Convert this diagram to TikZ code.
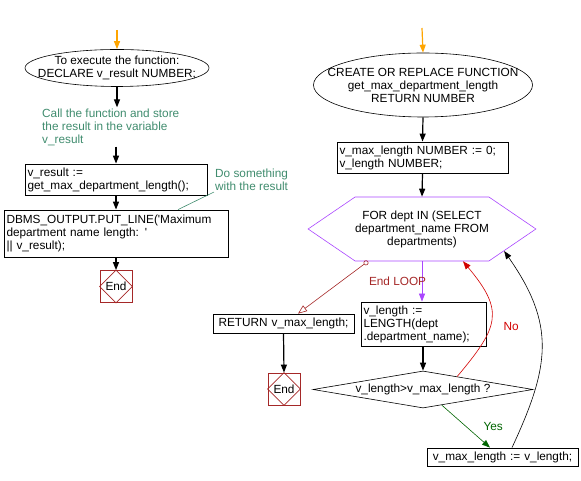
\documentclass[tikz,border=0pt]{standalone}
\usepackage{fontspec}
\setmainfont{Liberation Sans}
\usetikzlibrary{shapes.geometric,shapes.symbols,arrows.meta,calc}

\definecolor{notegreen}{RGB}{64,140,110}
\definecolor{endred}{RGB}{165,40,40}
\definecolor{looppurple}{RGB}{170,70,255}
\definecolor{norred}{RGB}{210,0,0}
\definecolor{yesgreen}{RGB}{0,100,0}
\definecolor{startorange}{RGB}{255,165,0}

\tikzset{
  startell/.style={ellipse, draw, line width=0.6pt, inner sep=0pt},
  procbox/.style={rectangle, draw, line width=0.8pt, align=left, inner sep=2.5pt},
  note/.style={text=notegreen, align=left, inner sep=1pt},
  endbox/.style={rectangle, draw=endred, line width=0.8pt, minimum size=32pt, inner sep=0pt},
  flow/.style={line width=1.2pt, -{Triangle[length=8pt,width=6pt]}},
}

\begin{document}
\begin{tikzpicture}[x=1pt,y=1pt,every node/.style={font=\fontsize{11.8}{13}\selectfont}]
  \useasboundingbox (0,0) rectangle (581,481);

  % Left column: calling the function
  \coordinate (go1) at (117,451);
  \node[startell, minimum width=184pt, minimum height=37pt,
        label={[align=center]center:To execute the function:\\DECLARE v\_result NUMBER;}] (ell1) at (117,413) {};
  \node[note, anchor=west] (cmt1) at (41,354) {Call the function and store\\the result in the variable\\v\_result};
  \node[procbox, text width=177pt, minimum height=31pt] (call) at (116,301.5) {v\_result :=\\get\_max\_department\_length();};
  \node[procbox, text width=219pt, minimum height=47pt] (dbms) at (116,247.5) {DBMS\_OUTPUT.PUT\_LINE(\textquotesingle Maximum\\department name length: \textquotesingle\\|| v\_result);};
  \node[note, anchor=west] (cmt2) at (214,301) {Do something\\with the result};
  \node[endbox] (end1) at (116,194.5) {End};

  \draw[flow, startorange] (go1) -- (ell1.north);
  \draw[flow] (ell1.south) -- (ell1.south |- cmt1.north);
  \draw[flow] (call.north |- cmt1.south) -- (call.north);
  \draw[flow] (call.south) -- (dbms.north);
  \draw[flow] (dbms.south) -- (end1.north);
  \draw[notegreen, line width=0.6pt] (cmt2.south west) -- ([xshift=62pt]dbms.north);

  % Right column: the function body
  \coordinate (go2) at (422,453);
  \node[startell, minimum width=219pt, minimum height=64pt,
        label={[align=center]center:CREATE OR REPLACE FUNCTION\\get\_max\_department\_length\\RETURN NUMBER}] (ell2) at (423,396) {};
  \node[procbox, text width=166pt, minimum height=31pt] (decl) at (422.5,323.5) {v\_max\_length NUMBER := 0;\\v\_length NUMBER;};
  \node[signal, signal to=west and east, signal pointer angle=68.5, draw=looppurple, line width=0.6pt,
        minimum width=192pt, minimum height=64pt, align=center, inner sep=0pt] (loop) at (422,252)
        {FOR dept IN (SELECT\\department\_name FROM\\departments)};
  \node[procbox, text width=120pt, minimum height=44pt] (vlen) at (423.5,157) {v\_length :=\\LENGTH(dept\\.department\_name);};
  \node[diamond, aspect=6, draw, line width=0.6pt, minimum width=220pt, minimum height=37pt, inner sep=0pt] (test) at (423,91.5) {v\_length>v\_max\_length ?};
  \node[procbox, align=center, text width=146pt, minimum height=18pt, inner ysep=1pt] (vmax) at (502.5,24) {v\_max\_length := v\_length;};
  \node[procbox, align=center, text width=136pt, minimum height=19pt, inner ysep=1pt] (ret) at (283.5,157.5) {RETURN v\_max\_length;};
  \node[endbox] (end2) at (284,92) {End};

  \draw[flow, startorange] (go2) -- (ell2.north);
  \draw[flow] (ell2.south) -- (decl.north);
  \draw[flow] (decl.south) -- (loop.north);
  \draw[flow, looppurple, line width=0.8pt] (loop.south) -- (vlen.north -| loop.south);
  \draw[flow] (vlen.south -| test.north) -- (test.north);
  \draw[endred, line width=0.6pt, {Circle[open,length=5pt]}-{Triangle[open,length=9pt,width=7pt]}]
    ([xshift=-54pt]loop.south) -- node[pos=0.38, right=24pt, text=endred] (endloop) {End LOOP} ([xshift=14.5pt]ret.north);
  \draw[flow] (ret.south) -- (end2.north);
  \draw[norred, line width=0.6pt, -{Triangle[length=8pt,width=6pt]}]
    ($(test.north)!0.31!(test.east)$) .. controls +(50:65) and +(-50:65) .. ([xshift=41pt]loop.south)
    node[pos=0.42, right=10pt, text=norred] (nolab) {No};
  \draw[yesgreen, line width=0.6pt, -{Triangle[length=8pt,width=6pt]}]
    ($(test.south)!0.17!(test.east)$) -- node[midway, right=14pt, text=yesgreen] (yeslab) {Yes} ([xshift=-12.5pt]vmax.north);
  \draw[line width=0.6pt, -{Triangle[length=8pt,width=6pt]}]
    ([xshift=9.5pt]vmax.north) .. controls +(65:90) and +(-55:90) .. (loop.-15);

  % End markers
  \foreach \e in {end1,end2}
    \draw[endred, line width=0.6pt] (\e.north) -- (\e.east) -- (\e.south) -- (\e.west) -- cycle;
\end{tikzpicture}
\end{document}
